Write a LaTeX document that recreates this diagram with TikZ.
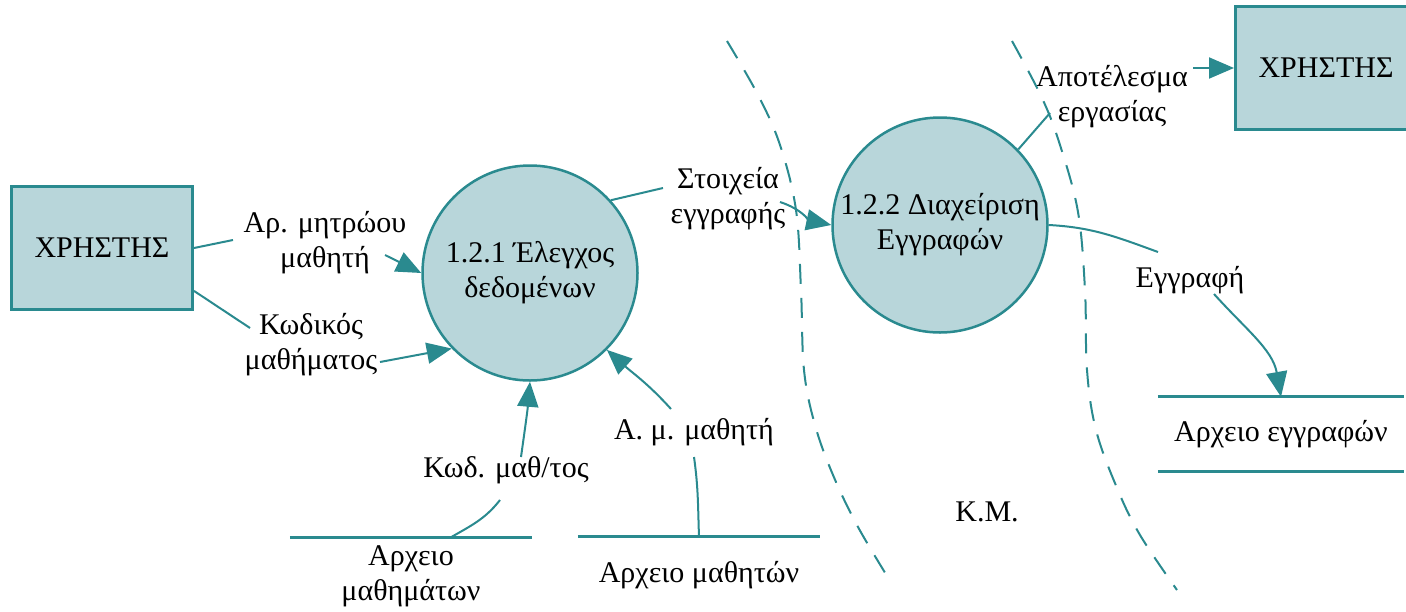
\documentclass[tikz,border=0pt]{standalone}
\usepackage{fontspec}
\setmainfont{Liberation Serif}
\usepackage{tikz}
\usetikzlibrary{arrows.meta}
\definecolor{dfdteal}{HTML}{2A8A8F}
\definecolor{dfdfill}{HTML}{B8D6DA}

\begin{document}
\begin{tikzpicture}[
    x=1pt, y=-1pt,
    every node/.style={font=\fontsize{30}{35}\selectfont},
    entity/.style={draw=dfdteal, line width=3pt, fill=dfdfill, rectangle, minimum width=181pt, minimum height=123pt},
    process/.style={draw=dfdteal, line width=2.5pt, fill=dfdfill, circle, minimum size=215pt, inner sep=0pt, align=center},
    store/.style={minimum width=242pt, minimum height=76pt, inner sep=0pt, align=center},
    lbl/.style={align=center, inner sep=2pt},
    conn/.style={draw=dfdteal, line width=2pt},
    flow/.style={conn, -{Triangle[length=25pt,width=21pt]}},
    storeline/.style={draw=dfdteal, line width=3pt},
    boundary/.style={draw=dfdteal, line width=2pt, dash pattern=on 20pt off 14pt}
]
    \useasboundingbox (0,0) rectangle (1406,611);
    \clip (0,0) rectangle (1406,611);

    \node[entity] (user1) at (102,248) {ΧΡΗΣΤΗΣ};
    \node[entity] (user2) at (1326,68) {ΧΡΗΣΤΗΣ};
    \node[process] (p1) at (530,273) {1.2.1 Έλεγχος\\δεδομένων};
    \node[process] (p2) at (940,225) {1.2.2 Διαχείριση\\Εγγραφών};

    % data stores
    \node[store] (f1) at (411,576) {Αρχειο\\μαθημάτων};
    \node[store] (f2) at (699,575) {Αρχειο μαθητών};
    \node[store, minimum width=246pt, minimum height=74pt] (f3) at (1281,434) {Αρχειο εγγραφών};
    \draw[storeline] (f1.north west) -- (f1.north east);
    \draw[storeline] (f2.north west) -- (f2.north east);
    \draw[storeline] (f3.north west) -- (f3.north east);
    \draw[storeline] (f3.south west) -- (f3.south east);

    % flow labels
    \node[lbl] (lblA) at (325,243) {Αρ. μητρώου\\μαθητή};
    \node[lbl] (lblB) at (311,345) {Κωδικός\\μαθήματος};
    \node[lbl] (lblC) at (728,199) {Στοιχεία\\εγγραφής};
    \node[lbl] (lblD) at (1112,97) {Αποτέλεσμα\\εργασίας};
    \node[lbl] (lblE) at (1190,280) {Εγγραφή};
    \node[lbl] (lblF) at (506,470) {Κωδ. μαθ/τος};
    \node[lbl] (lblG) at (694,432) {Α. μ. μαθητή};
    \node (km) at (987,512) {Κ.Μ.};

    % flows, broken at their labels
    \draw[conn] (user1.east) -- ([xshift=-92pt,yshift=3pt]lblA.center);
    \draw[flow] ([xshift=60pt,yshift=-12pt]lblA.center) -- (p1.west);
    \draw[conn] (user1.-25) -- ([xshift=-61pt,yshift=17pt]lblB.center);
    \draw[flow] ([xshift=69pt,yshift=-17pt]lblB.center) -- (p1.224);
    \draw[conn] (p1.42) -- ([xshift=-65pt,yshift=11pt]lblC.center);
    \draw[flow] ([xshift=52pt,yshift=-3pt]lblC.center) to[out=-18,in=168] (p2.west);
    \draw[conn] (p2.44) -- ([xshift=-62pt,yshift=-16pt]lblD.center);
    \draw[flow] ([xshift=81pt,yshift=29pt]lblD.center) -- (user2.west);
    \draw[conn] (p2.east) to[out=-3,in=160] ([xshift=-32pt,yshift=28pt]lblE.center);
    \draw[flow] ([xshift=24pt,yshift=-14pt]lblE.center) to[out=-48,in=100] (f3.north);
    \draw[conn] ([xshift=39pt]f1.north) to[out=30,in=-128] ([xshift=-6pt,yshift=-30pt]lblF.center);
    \draw[flow] ([xshift=15pt,yshift=13pt]lblF.center) to[out=82,in=-95] (p1.south);
    \draw[conn] (f2.north) to[out=92,in=-82] ([yshift=-25pt]lblG.center);
    \draw[flow] ([xshift=-23pt,yshift=23pt]lblG.center) to[out=132,in=-42] (p1.-45);

    % boundary arcs
    \draw[boundary] plot[smooth, tension=0.6] coordinates {(727,41) (758,95) (780,145) (796,210) (801,290) (804,370) (815,425) (833,475) (858,527) (892,584)};
    \draw[boundary] plot[smooth, tension=0.6] coordinates {(1012,41) (1042,98) (1060,145) (1078,212) (1085,290) (1087,370) (1096,430) (1117,488) (1140,535) (1177,590)};
\end{tikzpicture}
\end{document}
